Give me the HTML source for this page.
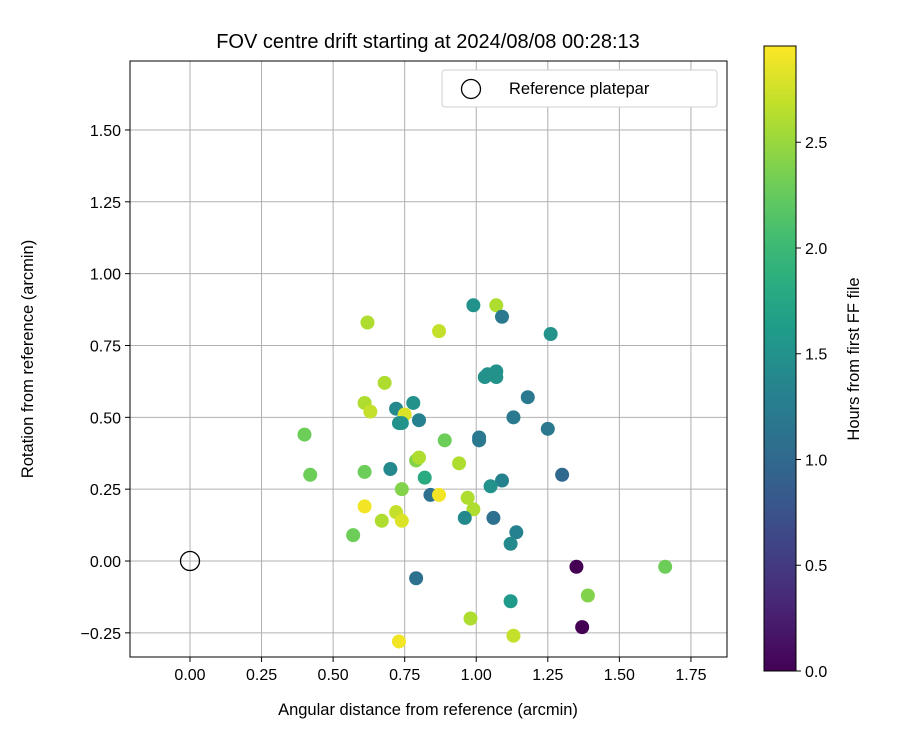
<!DOCTYPE html>
<html><head><meta charset="utf-8"><style>body{margin:0;background:#fff}svg{display:block;font-family:"Liberation Sans","DejaVu Sans",sans-serif}</style></head>
<body>
<svg id="chart" width="900" height="750"></svg>
<script>
const xs=[1.35,1.37,1.66,1.39,0.40,0.42,0.57,0.62,0.87,0.99,1.07,1.09,1.26,0.68,0.61,0.63,0.72,0.78,0.75,0.73,0.74,0.80,1.03,1.04,1.07,1.07,1.18,1.13,1.25,1.01,1.01,0.89,0.79,0.80,0.94,0.70,0.61,0.82,1.30,1.09,1.05,0.74,0.84,0.87,0.97,0.99,0.96,1.06,1.14,1.12,0.61,0.72,0.67,0.74,0.79,0.98,1.12,1.13,0.73];
const ys=[-0.02,-0.23,-0.02,-0.12,0.44,0.30,0.09,0.83,0.80,0.89,0.89,0.85,0.79,0.62,0.55,0.52,0.53,0.55,0.51,0.48,0.48,0.49,0.64,0.65,0.64,0.66,0.57,0.50,0.46,0.43,0.42,0.42,0.35,0.36,0.34,0.32,0.31,0.29,0.30,0.28,0.26,0.25,0.23,0.23,0.22,0.18,0.15,0.15,0.10,0.06,0.19,0.17,0.14,0.14,-0.06,-0.20,-0.14,-0.26,-0.28];
const hours=[0.0,0.0,2.3,2.4,2.3,2.3,2.3,2.6,2.7,1.5,2.6,1.2,1.5,2.6,2.6,2.7,1.4,1.5,2.8,1.5,1.5,1.3,1.5,1.5,1.5,1.5,1.2,1.2,1.2,1.2,1.2,2.3,2.4,2.6,2.6,1.4,2.3,1.8,1.0,1.3,1.5,2.4,1.1,2.9,2.6,2.6,1.4,1.1,1.3,1.4,2.9,2.7,2.6,2.8,1.1,2.6,1.6,2.7,2.9];
const xTicks=[0,0.25,0.5,0.75,1.0,1.25,1.5,1.75];
const yTicks=[-0.25,0,0.25,0.5,0.75,1.0,1.25,1.5];
const cTicks=[0,0.5,1.0,1.5,2.0,2.5];
const L=130,R=727,T=61,B=657,XMIN=-0.2096,XMAX=1.876,YMIN=-0.334,YMAX=1.740,CMAX=2.955;
const X=v=>L+(v-XMIN)/(XMAX-XMIN)*(R-L);
const Y=v=>B-(v-YMIN)/(YMAX-YMIN)*(B-T);
const stops=[[68,1,84],[72,40,120],[62,74,137],[49,104,142],[38,130,142],[31,158,137],[53,183,121],[109,205,89],[180,222,44],[253,231,37]];
function vir(t){t=Math.max(0,Math.min(1,t));const p=t*9,i=Math.min(8,Math.floor(p)),f=p-i;const a=stops[i],b=stops[i+1];return`rgb(${a.map((c,k)=>Math.round(c+(b[k]-c)*f)).join(',')})`;}
const svg=document.getElementById('chart');const NS='http://www.w3.org/2000/svg';
function mk(tag,at,txt){const e=document.createElementNS(NS,tag);for(const k in at)e.setAttribute(k,at[k]);if(txt!==undefined)e.textContent=txt;svg.appendChild(e);return e;}
let e;
xTicks.forEach(v=>{e=mk('line',{x1:X(v),x2:X(v),y1:T,y2:B,stroke:'#b0b0b0','stroke-width':1});
e=mk('line',{x1:X(v),x2:X(v),y1:B,y2:B+5,stroke:'#000'});
e=mk('text',{x:X(v),y:B+23,'font-size':16,'text-anchor':'middle'},v.toFixed(2));});
yTicks.forEach(v=>{e=mk('line',{x1:L,x2:R,y1:Y(v),y2:Y(v),stroke:'#b0b0b0','stroke-width':1});
e=mk('line',{x1:L-5,x2:L,y1:Y(v),y2:Y(v),stroke:'#000'});
e=mk('text',{x:L-9,y:Y(v)+6,'font-size':16,'text-anchor':'end'},(v<0?'\u2212'+(-v).toFixed(2):v.toFixed(2)));});
xs.forEach((v,i)=>{e=mk('circle',{cx:X(v),cy:Y(ys[i]),r:7,fill:vir(hours[i]/CMAX)});});
e=mk('circle',{cx:X(0),cy:Y(0),r:9.5,fill:'none',stroke:'#000','stroke-width':1.3});
e=mk('rect',{x:L,y:T,width:R-L,height:B-T,fill:'none',stroke:'#000','stroke-width':1});
e=mk('text',{x:428,y:48,'font-size':20,'text-anchor':'middle'},'FOV centre drift starting at 2024/08/08 00:28:13');
e=mk('text',{x:428,y:715,'font-size':16.5,'text-anchor':'middle'},'Angular distance from reference (arcmin)');
e=mk('text',{x:33,y:359,'font-size':16.5,'text-anchor':'middle',transform:'rotate(-90 33 359)'},'Rotation from reference (arcmin)');
e=mk('rect',{x:442,y:70,width:275,height:37,rx:3,fill:'#fff',stroke:'#d0d0d0'});
e=mk('circle',{cx:471,cy:89,r:9.5,fill:'none',stroke:'#000','stroke-width':1.3});
e=mk('text',{x:509,y:94,'font-size':16.5},'Reference platepar');
const CL=764,CR=796,CT=46,CB=671;
const defs=mk('defs',{});const g=document.createElementNS(NS,'linearGradient');g.setAttribute('id','vg');g.setAttribute('x1','0');g.setAttribute('y1','1');g.setAttribute('x2','0');g.setAttribute('y2','0');defs.appendChild(g);
for(let i=0;i<=20;i++){const s=document.createElementNS(NS,'stop');s.setAttribute('offset',i/20);s.setAttribute('stop-color',vir(i/20));g.appendChild(s);}
e=mk('rect',{x:CL,y:CT,width:CR-CL,height:CB-CT,fill:'url(#vg)',stroke:'#000','stroke-width':1});
cTicks.forEach(v=>{const y=CB-v/CMAX*(CB-CT);e=mk('line',{x1:CR,x2:CR+5,y1:y,y2:y,stroke:'#000'});
e=mk('text',{x:CR+9,y:y+6,'font-size':16},v.toFixed(1));});
e=mk('text',{x:859,y:359,'font-size':16.5,'text-anchor':'middle',transform:'rotate(-90 859 359)'},'Hours from first FF file');
</script>
</body></html>
